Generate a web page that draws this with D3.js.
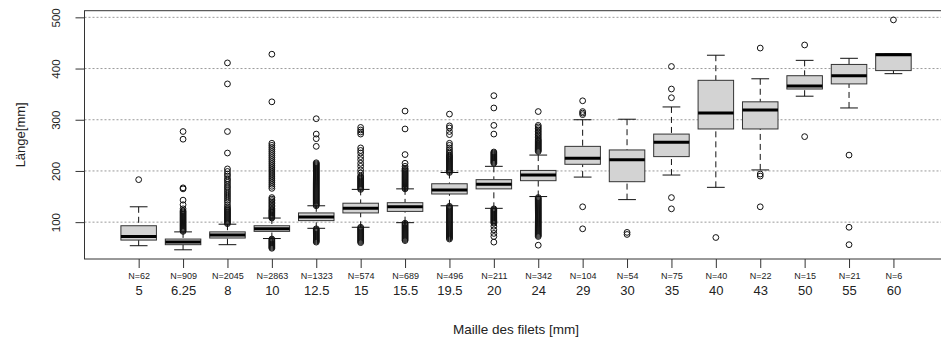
<!DOCTYPE html>
<html>
<head>
<meta charset="utf-8">
<script src="https://cdn.jsdelivr.net/npm/d3@7"></script>
<style>
  body { margin: 0; background: #fff; }
  text { font-family: "Liberation Sans", Arial, sans-serif; fill: #222; }
</style>
</head>
<body>
<svg id="chart" width="941" height="345"></svg>
<script>
// Mesh sizes of the nets and the number of fish measured for each
const categories = ["5", "6.25", "8", "10", "12.5", "15", "15.5", "19.5", "20", "24", "29", "30", "35", "40", "43", "50", "55", "60"];
const counts = [62, 909, 2045, 2863, 1323, 574, 689, 496, 211, 342, 104, 54, 75, 40, 22, 15, 21, 6];

// Five-number summaries of fish length (mm)
const whiskerLow  = [54, 46, 56, 68, 88, 90, 99, 132, 127, 150, 188, 144, 192, 168, 202, 346, 323, 390];
const q1          = [65, 56, 69, 82, 103, 118, 121, 155, 165, 181, 213, 179, 228, 282, 282, 360, 370, 396];
const medians     = [72, 61, 75, 87, 110, 127, 130, 163, 174, 192, 225, 222, 256, 313, 319, 366, 386, 427];
const q3          = [93, 67, 81, 93, 118, 137, 138, 175, 183, 201, 248, 241, 272, 377, 335, 386, 408, 429];
const whiskerHigh = [130, 81, 96, 108, 132, 164, 165, 197, 209, 231, 300, 301, 325, 426, 380, 416, 420, 429];

// Outlying lengths per mesh size
const outliers = [
  [183],
  [82, 84, 86, 88, 90, 92, 94, 96, 98, 100, 102, 104, 106, 108, 110, 112, 114, 116, 118, 120, 122, 126, 134, 143, 165, 167, 262, 277],
  [97, 99, 101, 103, 105, 107, 109, 111, 113, 115, 117, 119, 121, 123, 125, 127, 130, 134, 139, 143, 147, 151, 155, 159, 163, 167, 170, 174, 178, 182, 185, 190, 194, 199, 204, 235, 277, 370, 411],
  [49, 51, 53, 55, 57, 59, 61, 63, 65, 67,
   108, 110, 112, 114, 116, 118, 120, 122, 124, 127, 130, 133, 136, 139, 142, 145, 148,
   166, 170, 174, 178, 182, 186, 190, 194, 198, 202, 206, 210, 214, 218, 222, 226, 230, 234, 238, 242, 246, 250, 254, 335, 428],
  [61, 63, 65, 67, 69, 71, 73, 75, 77, 79, 81, 83, 85, 87,
   132, 134, 136, 138, 140, 142, 144, 146, 148, 150, 152, 154, 156, 158, 160, 162, 164, 166, 168, 170, 172, 174, 176, 178, 180, 182, 184, 186, 188, 190, 192, 194, 196, 198, 200, 202, 204, 206, 208, 210, 212, 214, 216,
   248, 263, 272, 302],
  [60, 62, 64, 66, 68, 70, 72, 74, 76, 78, 80, 82, 84, 86, 88, 90,
   164, 166, 168, 170, 172, 174, 176, 178, 180, 182, 184, 186, 188, 190,
   196, 202, 209, 215, 222, 228, 235, 240, 245, 272, 276, 280, 285],
  [64, 66, 68, 70, 72, 74, 76, 78, 80, 82, 84, 86, 88, 90, 92, 94, 96, 98,
   165, 167, 169, 171, 173, 175, 177, 179, 181, 183, 185, 187, 189, 191, 193, 195, 197, 199, 201, 203, 205,
   209, 215, 232, 282, 317],
  [67, 69, 71, 73, 75, 77, 79, 81, 83, 85, 87, 89, 91, 93, 95, 97, 99, 101, 103, 105, 107, 109, 111, 113, 115, 117, 119, 121, 123, 125, 127, 129, 131,
   197, 199, 201, 203, 205, 207, 209, 211, 213, 215, 217, 219, 221, 223, 225, 227, 229, 231,
   234, 237, 241, 245, 250, 254, 271, 277, 284, 288, 311],
  [61, 72, 78, 85, 92, 98, 100, 102, 104, 106, 108, 110, 112, 114, 116, 118, 120, 122, 124, 126,
   215, 217, 219, 221, 223, 225, 227, 229, 231, 233, 235, 237, 272, 289, 323, 347],
  [55, 72, 74, 76, 78, 80, 82, 84, 86, 88, 90, 92, 94, 96, 98, 100, 102, 104, 106, 108, 110, 112, 114, 116, 118, 120, 122, 124, 126, 128, 130, 132, 134, 136, 138, 140, 142, 144, 146, 148,
   238, 240, 242, 244, 246, 248, 250, 252, 254, 256, 258, 260, 262, 265, 268, 271, 274, 277, 280, 283, 286, 289, 316],
  [87, 130, 310, 313, 316, 337],
  [76, 80],
  [126, 148, 343, 360, 404],
  [70],
  [130, 190, 194, 440],
  [267, 446],
  [56, 90, 231],
  [495]
];

const yTicks = [100, 200, 300, 400, 500];
const xTitle = "Maille des filets [mm]";
const yTitle = "Länge[mm]";

const svg = d3.select("#chart");
const frame = { left: 84.5, right: 947.6, top: 10.7, bottom: 259 };

// Category axis: positions 1..n with half a slot either side plus 4% padding
const n = categories.length;
const xPad = 0.04 * n;
const x = d3.scaleLinear()
  .domain([0.5 - xPad, n + 0.5 + xPad])
  .range([frame.left, frame.right]);

// Value axis: data range padded by 4%
const allValues = whiskerLow.concat(whiskerHigh, outliers.flat());
const yMin = d3.min(allValues), yMax = d3.max(allValues);
const yPad = 0.04 * (yMax - yMin);
const y = d3.scaleLinear()
  .domain([yMin - yPad, yMax + yPad])
  .range([frame.bottom, frame.top]);

// Horizontal dotted reference lines
svg.append("g").selectAll("line").data(yTicks).join("line")
  .attr("x1", frame.left).attr("x2", frame.right)
  .attr("y1", d => y(d)).attr("y2", d => y(d))
  .attr("stroke", "#9a9a9a").attr("stroke-width", 1)
  .attr("stroke-dasharray", "2,2");

const boxHalf = x(1.4) - x(1);
const stapleHalf = x(1.2) - x(1);

const boxes = svg.append("g").selectAll("g").data(categories).join("g")
  .attr("transform", (d, i) => `translate(${x(i + 1)},0)`);

// Dashed whiskers, drawn from the whisker end toward the box
boxes.append("line")
  .attr("y1", (d, i) => y(whiskerHigh[i])).attr("y2", (d, i) => y(q3[i]))
  .attr("stroke", "#111").attr("stroke-dasharray", "6,4");
boxes.append("line")
  .attr("y1", (d, i) => y(whiskerLow[i])).attr("y2", (d, i) => y(q1[i]))
  .attr("stroke", "#111").attr("stroke-dasharray", "6,4");

// Staples
boxes.append("line")
  .attr("x1", -stapleHalf).attr("x2", stapleHalf)
  .attr("y1", (d, i) => y(whiskerHigh[i])).attr("y2", (d, i) => y(whiskerHigh[i]))
  .attr("stroke", "#111");
boxes.append("line")
  .attr("x1", -stapleHalf).attr("x2", stapleHalf)
  .attr("y1", (d, i) => y(whiskerLow[i])).attr("y2", (d, i) => y(whiskerLow[i]))
  .attr("stroke", "#111");

// Interquartile boxes
boxes.append("rect")
  .attr("x", -boxHalf).attr("width", 2 * boxHalf)
  .attr("y", (d, i) => y(q3[i]))
  .attr("height", (d, i) => y(q1[i]) - y(q3[i]))
  .attr("fill", "#d3d3d3").attr("stroke", "#333").attr("stroke-width", 1);

// Medians
boxes.append("line")
  .attr("x1", -boxHalf).attr("x2", boxHalf)
  .attr("y1", (d, i) => y(medians[i])).attr("y2", (d, i) => y(medians[i]))
  .attr("stroke", "#000").attr("stroke-width", 3);

// Outliers as open circles
boxes.each(function (d, i) {
  d3.select(this).selectAll("circle").data(outliers[i]).join("circle")
    .attr("cx", 0).attr("cy", v => y(v)).attr("r", 2.9)
    .attr("fill", "none").attr("stroke", "#111").attr("stroke-width", 1);
});

// Plot frame
svg.append("rect")
  .attr("x", frame.left).attr("y", frame.top)
  .attr("width", frame.right - frame.left).attr("height", frame.bottom - frame.top)
  .attr("fill", "none").attr("stroke", "#333").attr("stroke-width", 1);

// Left axis with vertical tick labels
const yAxis = svg.append("g")
  .attr("transform", `translate(${frame.left},0)`)
  .call(d3.axisLeft(y).tickValues(yTicks).tickSize(9).tickFormat(d3.format("d")));
yAxis.select(".domain").remove();
yAxis.selectAll(".tick line").attr("stroke", "#333");
yAxis.selectAll(".tick text")
  .attr("x", null).attr("dy", "0.35em")
  .attr("transform", "translate(-28.5,0) rotate(-90)")
  .attr("text-anchor", "middle")
  .attr("font-size", 11.5)
  .attr("font-family", null)
  .attr("fill", "#222");

// Bottom axis with category labels and sample sizes
const xAxis = svg.append("g")
  .attr("transform", `translate(0,${frame.bottom})`)
  .call(d3.axisBottom(x).tickValues(categories.map((c, i) => i + 1)).tickSize(9)
    .tickFormat(i => categories[i - 1]));
xAxis.select(".domain").remove();
xAxis.selectAll(".tick line").attr("stroke", "#333");
xAxis.selectAll(".tick text")
  .attr("y", 36).attr("dy", 0)
  .attr("font-size", 13)
  .attr("font-family", null)
  .attr("fill", "#222");
xAxis.selectAll(".tick").append("text")
  .attr("y", 20)
  .attr("text-anchor", "middle")
  .attr("font-size", 9)
  .attr("fill", "#333")
  .text(i => "N=" + counts[i - 1]);

// Axis titles
svg.append("text")
  .attr("x", (frame.left + frame.right) / 2).attr("y", 334)
  .attr("text-anchor", "middle").attr("font-size", 13.5)
  .text(xTitle);
svg.append("text")
  .attr("transform", `translate(20,${(frame.top + frame.bottom) / 2}) rotate(-90)`)
  .attr("dy", "0.35em")
  .attr("text-anchor", "middle").attr("font-size", 13)
  .text(yTitle);
</script>
</body>
</html>
